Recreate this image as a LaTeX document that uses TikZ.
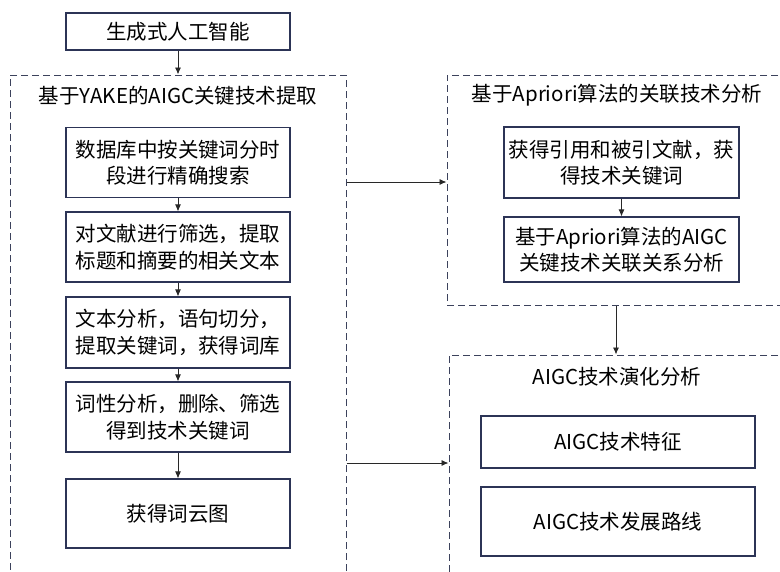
\documentclass[tikz,border=0pt]{standalone}
\usepackage{fontspec}
\setmainfont{Noto Sans CJK SC}
\usetikzlibrary{arrows.meta}
\definecolor{boxcol}{RGB}{44,52,86}
\definecolor{dashcol}{RGB}{60,66,92}
\definecolor{arrcol}{RGB}{40,40,40}
\tikzset{
  stepbox/.style={draw=boxcol, line width=1.1pt, align=center, inner sep=0pt, font=\fontsize{20.5}{26.5}\selectfont},
  groupbox/.style={draw=dashcol, line width=1pt, dash pattern=on 7pt off 4pt, inner sep=0pt},
  gtitle/.style={font=\fontsize{20.5}{26.5}\selectfont, inner sep=0pt},
  arr/.style={draw=arrcol, line width=0.9pt, -{Latex[length=7pt,width=6pt]}}
}
\begin{document}
\begin{tikzpicture}[x=1pt,y=-1pt]
\clip (0,0) rectangle (780,571);
\fill[white] (0,0) rectangle (780,571);
% top
\node[stepbox, minimum width=224pt, minimum height=37pt] (top) at (178,31.5) {生成式人工智能};
% left container
\node[groupbox, minimum width=336pt, minimum height=545pt] (lc) at (178,347.5) {};
\node[gtitle] (lt) at (178,96) {基于YAKE的AIGC关键技术提取};
\node[stepbox, minimum width=224pt, minimum height=70pt] (b1) at (178,162.5) {数据库中按关键词分时\\段进行精确搜索};
\node[stepbox, minimum width=224pt, minimum height=70pt] (b2) at (178,247) {对文献进行筛选，提取\\标题和摘要的相关文本};
\node[stepbox, minimum width=224pt, minimum height=71pt] (b3) at (178,332.5) {文本分析，语句切分，\\提取关键词，获得词库};
\node[stepbox, minimum width=224pt, minimum height=70pt] (b4) at (178,417) {词性分析，删除、筛选\\得到技术关键词};
\node[stepbox, minimum width=224pt, minimum height=69pt] (b5) at (178,513.5) {获得词云图};
% right top container
\node[groupbox, minimum width=353pt, minimum height=230pt] (rt) at (623.5,190) {};
\node[gtitle] (rtt) at (617,95) {基于Apriori算法的关联技术分析};
\node[stepbox, minimum width=235pt, minimum height=71pt] (ba) at (621.5,162.5) {获得引用和被引文献，获\\得技术关键词};
\node[stepbox, minimum width=235pt, minimum height=65pt] (bb) at (621.5,249.5) {基于Apriori算法的AIGC\\关键技术关联关系分析};
% right bottom container
\node[groupbox, minimum width=351pt, minimum height=265pt] (rb) at (624.5,487.5) {};
\node[gtitle] (rbt) at (617,377) {AIGC技术演化分析};
\node[stepbox, minimum width=274pt, minimum height=52pt] (bc) at (618,442) {AIGC技术特征};
\node[stepbox, minimum width=274pt, minimum height=69pt] (bd) at (618,521.5) {AIGC技术发展路线};
% helper coordinates
\coordinate (cA) at (0,182);
\coordinate (cB) at (0,463);
\coordinate (cX) at (616,0);
% connectors
\draw[arr] (top) -- (lc.north -| top.south);
\draw[arr] (b1) -- (b2);
\draw[arr] (b2) -- (b3);
\draw[arr] (b3) -- (b4);
\draw[arr] (b4) -- (b5);
\draw[arr] (ba) -- (bb);
\draw[arr] (lc.east |- cA) -- (rt.west |- cA);
\draw[arr] (lc.east |- cB) -- (rb.west |- cB);
\draw[arr] (rt.south -| cX) -- (rb.north -| cX);
\end{tikzpicture}
\end{document}
